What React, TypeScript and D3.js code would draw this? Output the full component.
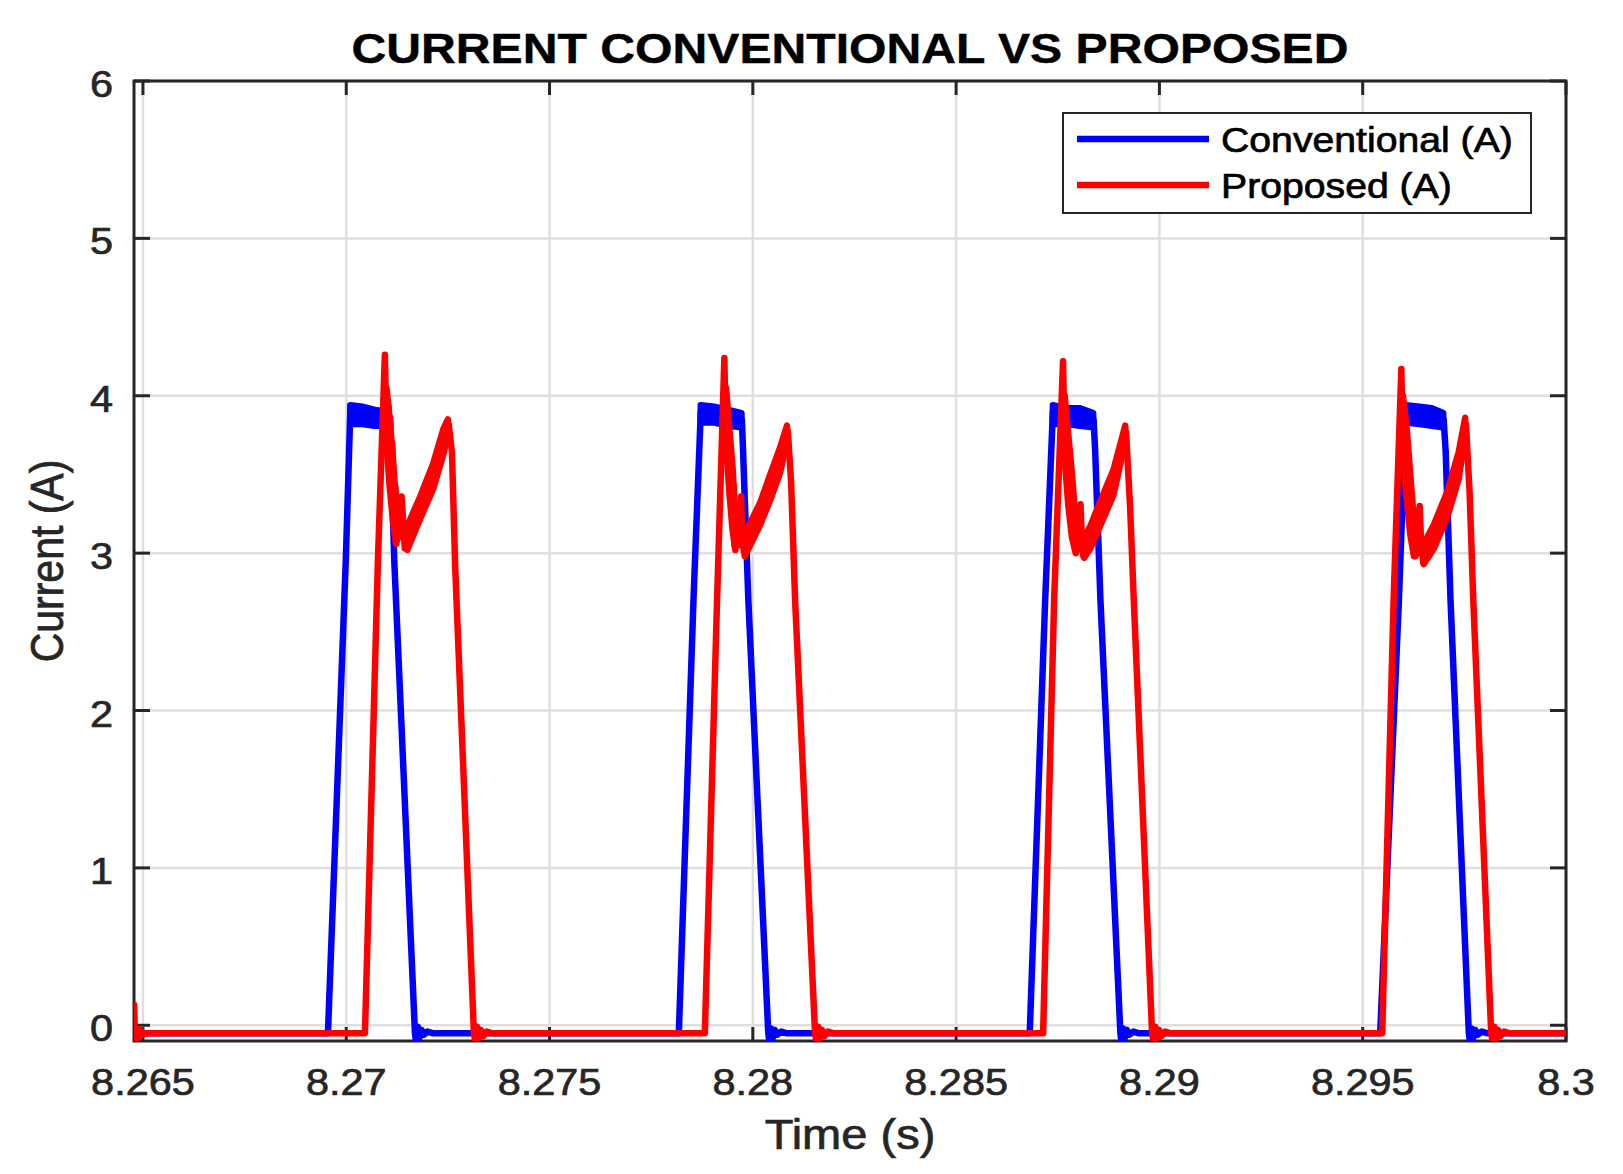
import React from 'react';
import * as d3 from 'd3';

type Pt = [number, number];
type Band = [number, number, number];

// ---- data (time in s, current in A) ----
const xTicks = [8.265, 8.27, 8.275, 8.28, 8.285, 8.29, 8.295, 8.3];
const xTickLabels = ['8.265', '8.27', '8.275', '8.28', '8.285', '8.29', '8.295', '8.3'];
const yTicks = [0, 1, 2, 3, 4, 5, 6];
const yTickLabels = ['0', '1', '2', '3', '4', '5', '6'];

const timeStart = 8.26478;
const timeEnd = 8.3;
const baseline = -0.05;

// Conventional (blue) pulses
const convPulse1: Pt[] = [
  [8.26955, -0.05], [8.26999, 2.96], [8.2701, 3.9], [8.2706, 3.87], [8.27108, 3.86],
  [8.27118, 2.96], [8.27169, -0.05], [8.27172, -0.11], [8.27176, -0.01], [8.2718, -0.08],
  [8.27185, -0.03], [8.27191, -0.06], [8.272, -0.04], [8.27212, -0.05],
];
const convPulse2: Pt[] = [
  [8.27818, -0.05], [8.27854, 2.7], [8.27872, 3.9], [8.2792, 3.87], [8.27973, 3.85],
  [8.27976, 3.65], [8.27989, 2.7], [8.28038, -0.05], [8.28041, -0.11], [8.28045, -0.02],
  [8.28049, -0.08], [8.28054, -0.03], [8.2806, -0.06], [8.2807, -0.04], [8.28082, -0.05],
];
const convPulse3: Pt[] = [
  [8.28681, -0.05], [8.28719, 2.7], [8.28738, 3.9], [8.2879, 3.87], [8.28838, 3.85],
  [8.28842, 3.65], [8.28855, 2.7], [8.28904, -0.05], [8.28907, -0.11], [8.28911, -0.02],
  [8.28915, -0.08], [8.2892, -0.03], [8.28926, -0.06], [8.28936, -0.04], [8.28948, -0.05],
];
const convPulse4: Pt[] = [
  [8.29543, -0.05], [8.29589, 2.7], [8.29606, 3.9], [8.2965, 3.87], [8.29699, 3.85],
  [8.29704, 3.65], [8.29716, 2.7], [8.29761, -0.05], [8.29764, -0.11], [8.29768, -0.02],
  [8.29772, -0.08], [8.29777, -0.03], [8.29783, -0.06], [8.29793, -0.04], [8.29805, -0.05],
];
// ripple band on the flat tops: [time, low, high]
const convRipple1: Band[] = [[8.2701, 3.82, 3.94], [8.2704, 3.82, 3.93], [8.2707, 3.81, 3.91], [8.271, 3.81, 3.9]];
const convRipple2: Band[] = [[8.27872, 3.83, 3.94], [8.27905, 3.83, 3.93], [8.2794, 3.81, 3.91], [8.27972, 3.8, 3.89]];
const convRipple3: Band[] = [[8.28738, 3.82, 3.94], [8.2877, 3.82, 3.92], [8.28805, 3.81, 3.92], [8.28837, 3.8, 3.89]];
const convRipple4: Band[] = [[8.29606, 3.83, 3.94], [8.2964, 3.82, 3.93], [8.2967, 3.81, 3.92], [8.29698, 3.8, 3.89]];

// Proposed (red) pulses
const propStart: Pt[] = [
  [8.26478, 0.13], [8.26481, -0.11], [8.26485, -0.02], [8.26489, -0.08], [8.26494, -0.03],
  [8.265, -0.06], [8.2651, -0.05],
];
const propPulse1: Pt[] = [
  [8.27046, -0.05], [8.27078, 2.96], [8.27095, 4.26], [8.271, 3.65], [8.27104, 3.93],
  [8.27108, 3.4], [8.27113, 3.7], [8.27117, 3.2], [8.27121, 3.42], [8.27125, 3.08],
  [8.27131, 3.12], [8.27136, 3.36], [8.2714, 3.2], [8.27144, 3.03], [8.2715, 3.1],
  [8.27182, 3.29], [8.27214, 3.49], [8.27239, 3.71], [8.27252, 3.82], [8.2726, 3.64],
  [8.27268, 2.91], [8.27314, -0.05], [8.27318, -0.11], [8.27322, -0.01], [8.27326, -0.08],
  [8.27331, -0.03], [8.27337, -0.07], [8.27346, -0.04], [8.27358, -0.05],
];
const propPulse2: Pt[] = [
  [8.27882, -0.05], [8.27912, 2.7], [8.2793, 4.24], [8.27934, 3.65], [8.27939, 3.8],
  [8.27944, 3.35], [8.2795, 3.5], [8.27955, 3.05], [8.2796, 3.22], [8.27965, 3.05],
  [8.27971, 3.36], [8.27974, 3.1], [8.27978, 3.01], [8.27994, 3.12], [8.28018, 3.25],
  [8.28043, 3.42], [8.28067, 3.59], [8.2808, 3.71], [8.28086, 3.78], [8.28094, 3.46],
  [8.28104, 2.7], [8.28153, -0.05], [8.28157, -0.11], [8.28161, -0.01], [8.28165, -0.08],
  [8.2817, -0.03], [8.28176, -0.07], [8.28185, -0.04], [8.28197, -0.05],
];
const propPulse3: Pt[] = [
  [8.28714, -0.05], [8.28741, 2.7], [8.28763, 4.22], [8.28767, 3.62], [8.28772, 3.75],
  [8.28777, 3.32], [8.28783, 3.45], [8.28788, 3.08], [8.28793, 3.2], [8.28798, 3.02],
  [8.28806, 3.31], [8.28809, 3.1], [8.28813, 2.98], [8.2883, 3.1], [8.28847, 3.21],
  [8.28887, 3.45], [8.28918, 3.77], [8.28928, 3.29], [8.28937, 2.7], [8.28982, -0.05],
  [8.28986, -0.11], [8.2899, -0.01], [8.28994, -0.08], [8.28999, -0.03], [8.29005, -0.07],
  [8.29014, -0.04], [8.29026, -0.05],
];
const propPulse4: Pt[] = [
  [8.29548, -0.05], [8.29576, 2.7], [8.29595, 4.17], [8.29599, 3.62], [8.29604, 3.8],
  [8.29609, 3.4], [8.29614, 3.55], [8.29619, 3.15], [8.29624, 3.28], [8.2963, 2.98],
  [8.29634, 3.02], [8.2964, 3.3], [8.29644, 3.05], [8.29649, 2.94], [8.29675, 3.1],
  [8.29708, 3.31], [8.29736, 3.55], [8.29754, 3.82], [8.29763, 3.38], [8.29772, 2.7],
  [8.29816, -0.05], [8.2982, -0.11], [8.29824, -0.01], [8.29828, -0.08], [8.29833, -0.03],
  [8.29839, -0.07], [8.29848, -0.04], [8.2986, -0.05],
];
// ripple band just after each spike (falling side)
const propDrop1: Band[] = [[8.27099, 3.7, 4.05], [8.27107, 3.42, 3.85], [8.27115, 3.2, 3.6], [8.27123, 3.06, 3.3]];
const propDrop2: Band[] = [[8.27934, 3.7, 4.05], [8.27942, 3.4, 3.8], [8.2795, 3.15, 3.55], [8.27957, 3.02, 3.25]];
const propDrop3: Band[] = [[8.28767, 3.6, 4.0], [8.28776, 3.3, 3.75], [8.28785, 3.1, 3.5], [8.28794, 3.0, 3.2]];
const propDrop4: Band[] = [[8.29599, 3.6, 4.0], [8.29608, 3.35, 3.8], [8.29617, 3.12, 3.5], [8.29626, 2.98, 3.2]];
// ripple band on the rising ramps
const propRipple1: Band[] = [[8.2715, 3.02, 3.17], [8.27182, 3.22, 3.36], [8.27214, 3.41, 3.57], [8.27239, 3.63, 3.79], [8.2725, 3.76, 3.85]];
const propRipple2: Band[] = [[8.2798, 2.98, 3.12], [8.28018, 3.18, 3.32], [8.28043, 3.34, 3.5], [8.28067, 3.51, 3.67], [8.28084, 3.71, 3.81]];
const propRipple3: Band[] = [[8.28815, 2.97, 3.1], [8.2883, 3.03, 3.17], [8.28847, 3.13, 3.28], [8.28887, 3.37, 3.53], [8.28916, 3.71, 3.81]];
const propRipple4: Band[] = [[8.2965, 2.93, 3.06], [8.29675, 3.03, 3.18], [8.29708, 3.23, 3.39], [8.29736, 3.47, 3.64], [8.29752, 3.75, 3.86]];

const seriesNames = ['Conventional (A)', 'Proposed (A)'];
const seriesColors = ['#0000ff', '#ff0000'];

const titleText = 'CURRENT CONVENTIONAL VS PROPOSED';
const xLabel = 'Time (s)';
const yLabel = 'Current (A)';

// ---- layout ----
const W = 1623;
const H = 1174;
const plot = { left: 134, right: 1566, top: 81, bottom: 1041 };
const SX = 1.12; // the figure's text is slightly wide
const FONT = '"Liberation Sans", Arial, Helvetica, sans-serif';
const AXIS = '#262626';
const GRID = '#dfdfdf';
const LW = 6.5;

const convSeries: Pt[] = [
  [timeStart, baseline], ...convPulse1, ...convPulse2, ...convPulse3, ...convPulse4, [timeEnd, baseline],
];
const propSeries: Pt[] = [
  ...propStart, ...propPulse1, ...propPulse2, ...propPulse3, ...propPulse4, [timeEnd, baseline],
];
const convBands = [convRipple1, convRipple2, convRipple3, convRipple4];
const propBands = [propDrop1, propDrop2, propDrop3, propDrop4, propRipple1, propRipple2, propRipple3, propRipple4];

const STxt: React.FC<{
  x: number; y: number; size: number; anchor?: string; weight?: string; fill?: string; rotate?: boolean; children: string;
}> = ({ x, y, size, anchor = 'start', weight = 'normal', fill = AXIS, rotate = false, children }) => (
  <text
    transform={`translate(${x},${y}) scale(${SX},1)${rotate ? ' rotate(-90)' : ''}`}
    textAnchor={anchor as any}
    fontFamily={FONT}
    fontSize={size}
    fontWeight={weight}
    fill={fill}
    stroke={fill}
    strokeWidth={weight === 'bold' ? 0.4 : 0.7}
  >
    {children}
  </text>
);

export default function App() {
  const x = d3.scaleLinear().domain([timeStart, timeEnd]).range([plot.left, plot.right]);
  const y = d3.scaleLinear().domain([-0.1, 6]).range([plot.bottom, plot.top]);

  const line = d3.line<Pt>().x((d) => x(d[0])).y((d) => y(d[1]));
  const band = d3.area<Band>().x((d) => x(d[0])).y0((d) => y(d[1])).y1((d) => y(d[2]));

  const xTickLen = 14;
  const yTickLen = 16;

  // legend
  const lg = { x: 1063, y: 113, w: 468, h: 100 };
  const lgRows = [139, 185];

  return (
    <div style={{ position: 'absolute', left: 0, top: 0 }}>
      <svg width={W} height={H} viewBox={`0 0 ${W} ${H}`} style={{ display: 'block', background: '#fff' }}>
        <defs>
          <clipPath id="plotClip">
            <rect x={plot.left} y={plot.top} width={plot.right - plot.left} height={plot.bottom - plot.top} />
          </clipPath>
        </defs>
        <rect x={0} y={0} width={W} height={H} fill="#fff" />

        {/* grid */}
        <g stroke={GRID} strokeWidth={2.5}>
          {xTicks.map((t) => (
            <line key={'gx' + t} x1={x(t)} x2={x(t)} y1={plot.top} y2={plot.bottom} />
          ))}
          {yTicks.map((v) => (
            <line key={'gy' + v} x1={plot.left} x2={plot.right} y1={y(v)} y2={y(v)} />
          ))}
        </g>

        {/* ticks on all sides */}
        <g stroke={AXIS} strokeWidth={3}>
          {xTicks.map((t) => (
            <g key={'tx' + t}>
              <line x1={x(t)} x2={x(t)} y1={plot.bottom} y2={plot.bottom - xTickLen} />
              <line x1={x(t)} x2={x(t)} y1={plot.top} y2={plot.top + xTickLen} />
            </g>
          ))}
          {yTicks.map((v) => (
            <g key={'ty' + v}>
              <line x1={plot.left} x2={plot.left + yTickLen} y1={y(v)} y2={y(v)} />
              <line x1={plot.right} x2={plot.right - yTickLen} y1={y(v)} y2={y(v)} />
            </g>
          ))}
        </g>
        <rect
          x={plot.left}
          y={plot.top}
          width={plot.right - plot.left}
          height={plot.bottom - plot.top}
          fill="none"
          stroke={AXIS}
          strokeWidth={3}
        />

        {/* data */}
        <g clipPath="url(#plotClip)" fill="none" strokeLinejoin="round" strokeLinecap="round">
          <path d={line(convSeries) || ''} stroke={seriesColors[0]} strokeWidth={LW} />
          {convBands.map((r, i) => (
            <path key={'cb' + i} d={band(r) || ''} fill={seriesColors[0]} stroke={seriesColors[0]} strokeWidth={LW} />
          ))}
          <path d={line(propSeries) || ''} stroke={seriesColors[1]} strokeWidth={LW} />
          {propBands.map((r, i) => (
            <path key={'pb' + i} d={band(r) || ''} fill={seriesColors[1]} stroke={seriesColors[1]} strokeWidth={LW} />
          ))}
        </g>

        {/* tick labels */}
        {xTicks.map((t, i) => (
          <STxt key={'lx' + t} x={x(t)} y={plot.bottom + 54} size={37} anchor="middle">
            {xTickLabels[i]}
          </STxt>
        ))}
        {yTicks.map((v, i) => (
          <STxt key={'ly' + v} x={113} y={y(v) + 16} size={37} anchor="end">
            {yTickLabels[i]}
          </STxt>
        ))}

        {/* axis labels and title */}
        <STxt x={(plot.left + plot.right) / 2} y={1149} size={42} anchor="middle">
          {xLabel}
        </STxt>
        <STxt x={63} y={(plot.top + plot.bottom) / 2} size={41} anchor="middle" rotate>
          {yLabel}
        </STxt>
        <STxt x={(plot.left + plot.right) / 2} y={63} size={43} anchor="middle" weight="bold" fill="#000">
          {titleText}
        </STxt>

        {/* legend */}
        <rect x={lg.x} y={lg.y} width={lg.w} height={lg.h} fill="#fff" stroke={AXIS} strokeWidth={2} />
        {seriesNames.map((name, i) => (
          <g key={name}>
            <line x1={1077} x2={1209} y1={lgRows[i]} y2={lgRows[i]} stroke={seriesColors[i]} strokeWidth={LW} />
            <STxt x={1221} y={lgRows[i] + 13} size={35} fill="#000">
              {name}
            </STxt>
          </g>
        ))}
      </svg>
    </div>
  );
}
